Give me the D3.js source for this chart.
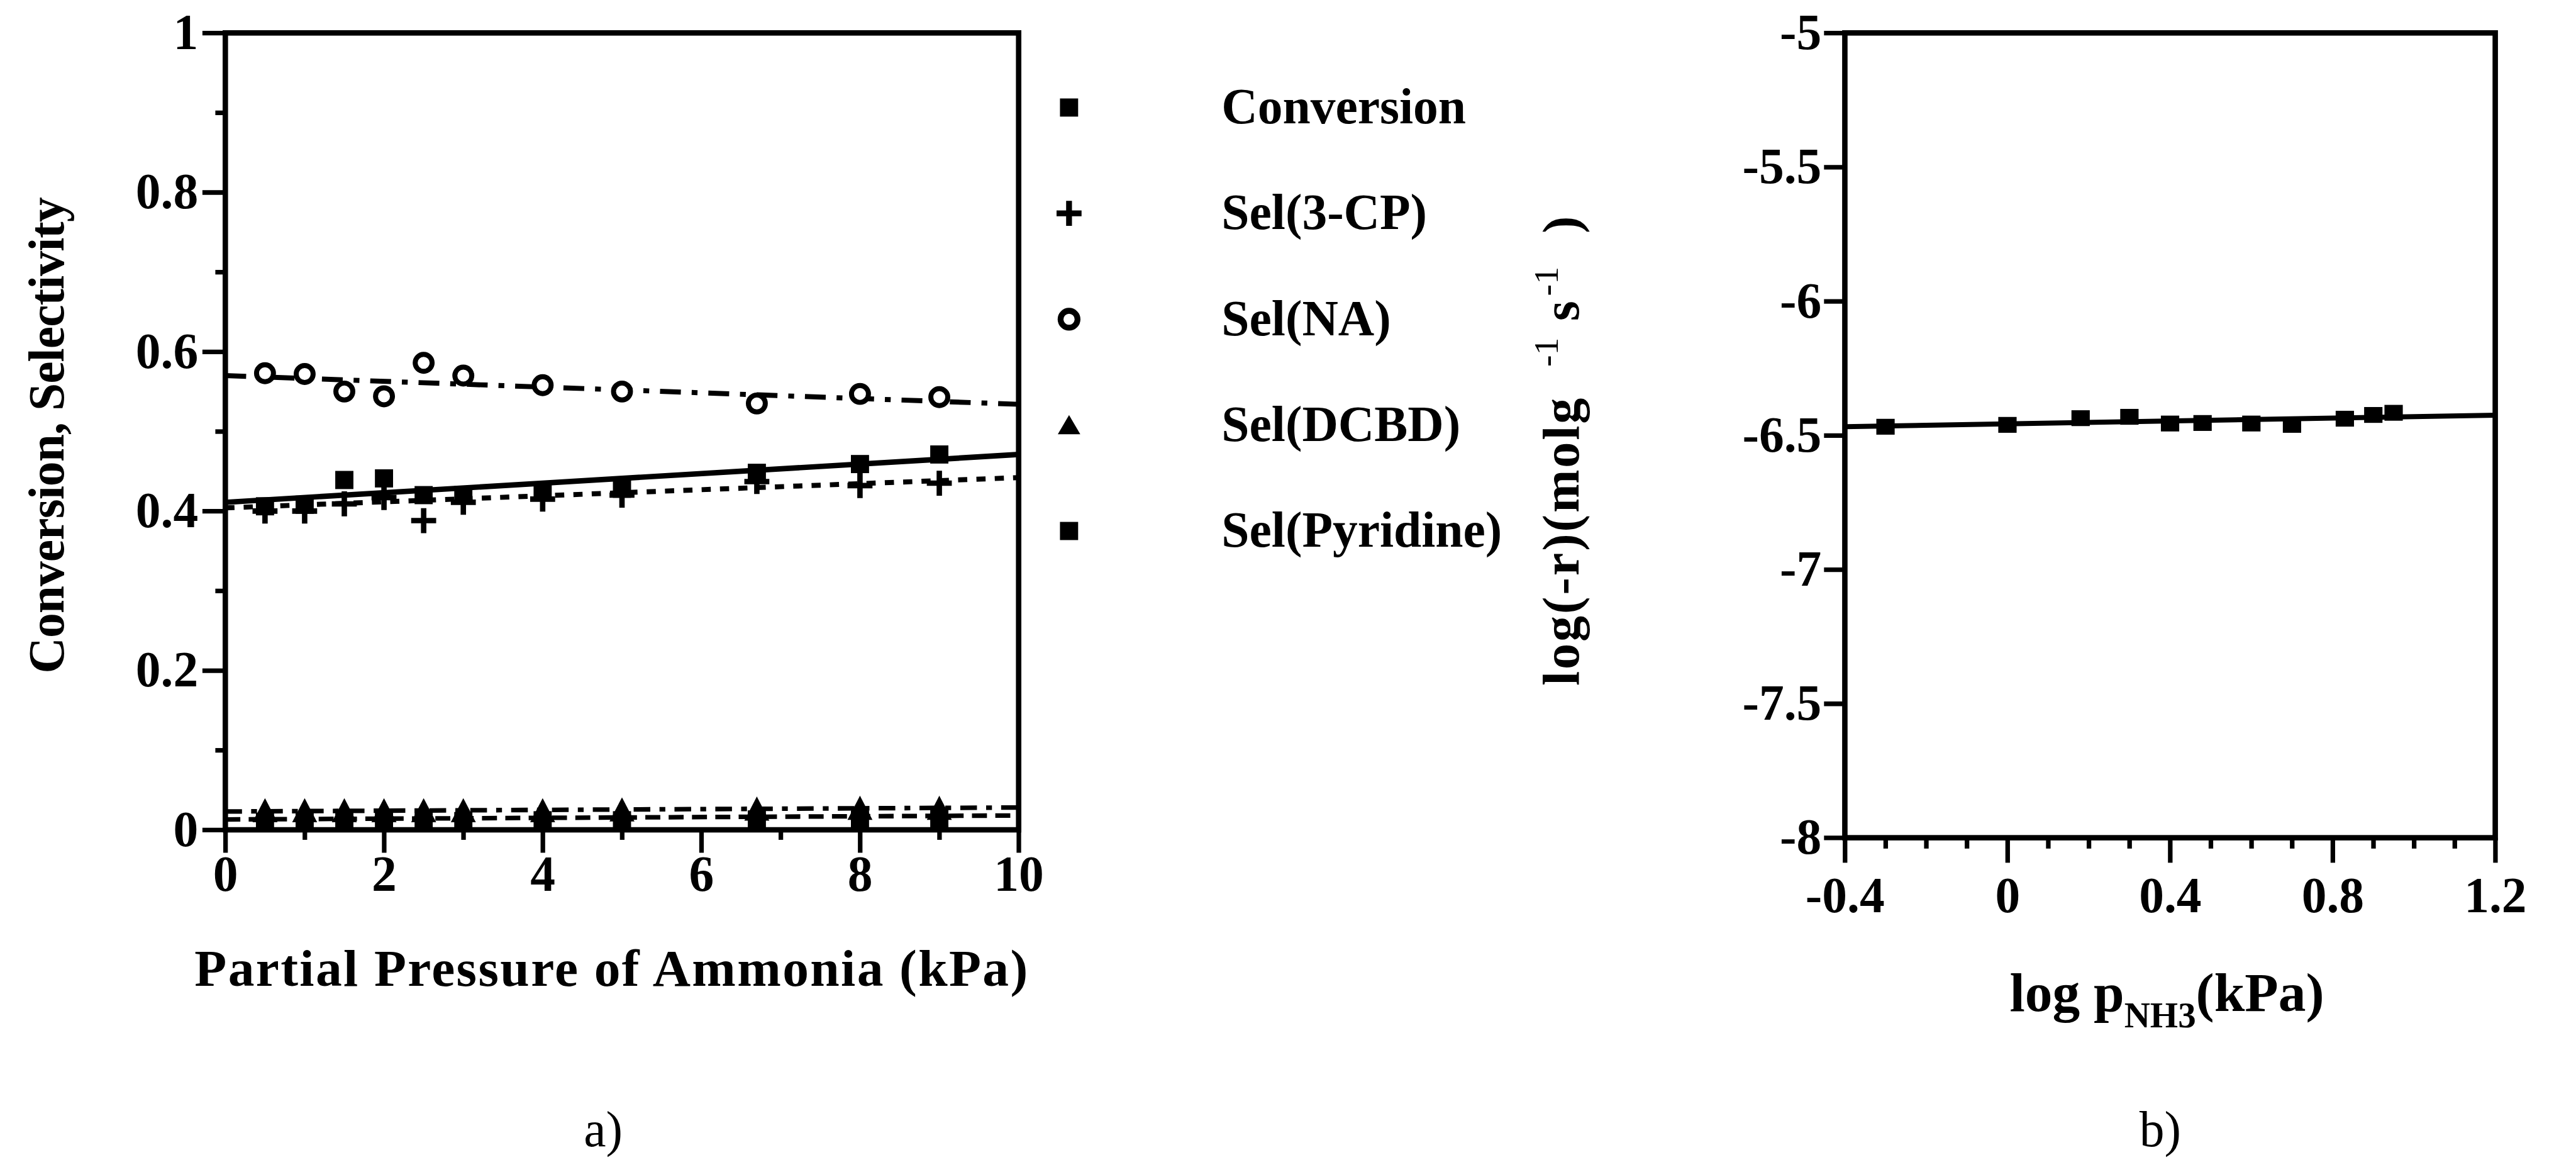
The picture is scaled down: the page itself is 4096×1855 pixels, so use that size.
<!DOCTYPE html>
<html>
<head>
<meta charset="utf-8">
<script src="https://cdn.jsdelivr.net/npm/d3@7"></script>
<style>
  html, body { margin: 0; padding: 0; background: #fff; overflow: hidden; }
  svg { display: block; }
</style>
</head>
<body>
<script>
// ---- data ----
const pressure = [0.5, 1, 1.5, 2, 2.5, 3, 4, 5, 6.7, 8, 9];
const conversion = [0.406, 0.408, 0.439, 0.441, 0.42, 0.42, 0.426, 0.428, 0.448, 0.459, 0.471];
const sel3CP = [0.40, 0.40, 0.409, 0.417, 0.388, 0.411, 0.415, 0.42, 0.437, 0.432, 0.435];
const selNA = [0.573, 0.572, 0.55, 0.544, 0.586, 0.570, 0.558, 0.55, 0.535, 0.547, 0.543];
const selDCBD = [0.022, 0.022, 0.022, 0.022, 0.022, 0.022, 0.022, 0.023, 0.024, 0.025, 0.025];
const selPyridine = [0.010, 0.010, 0.011, 0.011, 0.011, 0.011, 0.012, 0.012, 0.013, 0.013, 0.014];

// fitted lines, value at x = 0 and x = 10
const fitX = [0, 10];
const conversionFit = [0.411, 0.471];
const sel3CPFit = [0.404, 0.442];
const selNAFit = [0.570, 0.534];
const selDCBDFit = [0.023, 0.028];
const selPyridineFit = [0.013, 0.018];

const legendLabels = ["Conversion", "Sel(3-CP)", "Sel(NA)", "Sel(DCBD)", "Sel(Pyridine)"];

// panel b
const logP = [-0.30, 0, 0.18, 0.30, 0.40, 0.48, 0.60, 0.70, 0.83, 0.90, 0.95];
const logRate = [-6.468, -6.461, -6.436, -6.431, -6.456, -6.454, -6.456, -6.461, -6.438, -6.424, -6.416];
const logRateFitX = [-0.4, 1.2];
const logRateFit = [-6.468, -6.425];

const yTicksA = [0, 0.2, 0.4, 0.6, 0.8, 1];
const yMinorA = [0.1, 0.3, 0.5, 0.7, 0.9];
const xTicksA = [0, 2, 4, 6, 8, 10];
const xMinorA = [1, 3, 5, 7, 9];
const yTicksB = [-8, -7.5, -7, -6.5, -6, -5.5, -5];
const xTicksB = [-0.4, 0, 0.4, 0.8, 1.2];
const xMinorB = [-0.3, -0.2, -0.1, 0.1, 0.2, 0.3, 0.5, 0.6, 0.7, 0.9, 1.0, 1.1];

// ---- drawing, in the reference's own pixel units ----
const FONT = '"Liberation Serif", "Times New Roman", serif';
const FS = 120;

const svg = d3.select("body").append("svg")
  .attr("width", 4096)
  .attr("height", 1855)
  .attr("viewBox", "0 0 6181 2800");

svg.append("rect").attr("width", 6181).attr("height", 2800).attr("fill", "#fff");

function styleAxis(g) {
  g.select(".domain").remove();
  g.attr("font-family", null).attr("font-size", null);
  g.selectAll("line").attr("stroke", "#000").attr("stroke-width", 11);
  g.selectAll("text")
    .attr("font-family", FONT)
    .attr("font-size", FS)
    .attr("font-weight", "bold")
    .attr("fill", "#000");
}

const plus = "M-30,0H30M0,-30V30";
const tri = "M0,-34L30,24L-30,24Z";
const square = d3.symbol(d3.symbolSquare, 1900)();
const ring = d3.symbol(d3.symbolCircle, 1300)();

// ===== panel a =====
const xA = d3.scaleLinear().domain([0, 10]).range([540, 2444]);
const yA = d3.scaleLinear().domain([0, 1]).range([1991, 79]);

svg.append("g").attr("transform", "translate(0,1991)")
  .call(d3.axisBottom(xA).tickValues(xTicksA).tickSize(55).tickPadding(6).tickFormat(d => String(d)))
  .call(styleAxis);
svg.append("g").attr("transform", "translate(0,1991)")
  .call(d3.axisBottom(xA).tickValues(xMinorA).tickSize(24).tickFormat(""))
  .call(styleAxis);
svg.append("g").attr("transform", "translate(540,0)")
  .call(d3.axisLeft(yA).tickValues(yTicksA).tickSize(55).tickPadding(10).tickFormat(d => String(d)))
  .call(styleAxis);
svg.append("g").attr("transform", "translate(540,0)")
  .call(d3.axisLeft(yA).tickValues(yMinorA).tickSize(24).tickFormat(""))
  .call(styleAxis);

svg.append("rect")
  .attr("x", xA(0)).attr("y", yA(1))
  .attr("width", xA(10) - xA(0)).attr("height", yA(0) - yA(1))
  .attr("fill", "none").attr("stroke", "#000").attr("stroke-width", 13);

const lineA = d3.line().x(d => xA(d[0])).y(d => yA(d[1]));
const fits = [
  {v: conversionFit, dash: null, w: 13},
  {v: sel3CPFit, dash: "22,22", w: 12},
  {v: selNAFit, dash: "50,26,14,26", w: 12},
  {v: selDCBDFit, dash: "40,22,14,22", w: 11},
  {v: selPyridineFit, dash: "36,20", w: 11}
];
fits.forEach(f => {
  svg.append("path")
    .datum(d3.zip(fitX, f.v))
    .attr("d", lineA)
    .attr("fill", "none")
    .attr("stroke", "#000")
    .attr("stroke-width", f.w)
    .attr("stroke-dasharray", f.dash);
});

const ptsA = svg.append("g");
function marks(values, shape) {
  const g = ptsA.append("g");
  const sel = g.selectAll("path").data(d3.zip(pressure, values)).join("path")
    .attr("transform", d => `translate(${xA(d[0])},${yA(d[1])})`);
  if (shape === "plus") sel.attr("d", plus).attr("stroke", "#000").attr("stroke-width", 13).attr("fill", "none");
  if (shape === "square") sel.attr("d", square).attr("fill", "#000");
  if (shape === "tri") sel.attr("d", tri).attr("fill", "#000");
  if (shape === "circle") sel.attr("d", ring).attr("fill", "#fff").attr("stroke", "#000").attr("stroke-width", 12);
}
marks(selDCBD, "tri");
marks(selPyridine, "square");
marks(sel3CP, "plus");
marks(conversion, "square");
marks(selNA, "circle");

// legend
const shapes = ["square", "plus", "circle", "tri", "square"];
legendLabels.forEach((label, i) => {
  const cy = 258 + i * 254;
  const m = svg.append("path").attr("transform", `translate(2565,${cy})`);
  if (shapes[i] === "plus") m.attr("d", "M-30,0H30M0,-30V30").attr("stroke", "#000").attr("stroke-width", 14);
  else if (shapes[i] === "circle") m.attr("d", ring).attr("fill", "#fff").attr("stroke", "#000").attr("stroke-width", 14);
  else if (shapes[i] === "tri") m.attr("d", "M0,-24L27,22L-27,22Z").attr("fill", "#000");
  else m.attr("d", square).attr("fill", "#000");
  svg.append("text")
    .attr("x", 2931).attr("y", cy + 38)
    .attr("font-family", FONT).attr("font-size", FS).attr("font-weight", "bold")
    .text(label);
});

svg.append("text")
  .attr("x", 1466).attr("y", 2365)
  .attr("text-anchor", "middle")
  .attr("font-family", FONT).attr("font-size", 126).attr("font-weight", "bold")
  .attr("textLength", 2000).attr("lengthAdjust", "spacing")
  .text("Partial Pressure of Ammonia (kPa)");

svg.append("text")
  .attr("transform", "translate(152,1616) rotate(-90)")
  .attr("font-family", FONT).attr("font-size", FS).attr("font-weight", "bold")
  .attr("textLength", 1143).attr("lengthAdjust", "spacing")
  .text("Conversion, Selectivity");

svg.append("text")
  .attr("x", 1447).attr("y", 2750).attr("text-anchor", "middle")
  .attr("font-family", FONT).attr("font-size", FS)
  .text("a)");

// ===== panel b =====
const xB = d3.scaleLinear().domain([-0.4, 1.2]).range([4427, 5988]);
const yB = d3.scaleLinear().domain([-8, -5]).range([2010, 79]);

svg.append("g").attr("transform", "translate(0,2010)")
  .call(d3.axisBottom(xB).tickValues(xTicksB).tickSize(60).tickPadding(34).tickFormat(d => String(d)))
  .call(styleAxis);
svg.append("g").attr("transform", "translate(0,2010)")
  .call(d3.axisBottom(xB).tickValues(xMinorB).tickSize(26).tickFormat(""))
  .call(styleAxis);
svg.append("g").attr("transform", "translate(4427,0)")
  .call(d3.axisLeft(yB).tickValues(yTicksB).tickSize(50).tickPadding(6).tickFormat(d => String(d)))
  .call(styleAxis);

svg.append("rect")
  .attr("x", xB(-0.4)).attr("y", yB(-5))
  .attr("width", xB(1.2) - xB(-0.4)).attr("height", yB(-8) - yB(-5))
  .attr("fill", "none").attr("stroke", "#000").attr("stroke-width", 13);

svg.append("path")
  .datum(d3.zip(logRateFitX, logRateFit))
  .attr("d", d3.line().x(d => xB(d[0])).y(d => yB(d[1])))
  .attr("fill", "none").attr("stroke", "#000").attr("stroke-width", 12);

svg.append("g").selectAll("rect").data(d3.zip(logP, logRate)).join("rect")
  .attr("x", d => xB(d[0]) - 22).attr("y", d => yB(d[1]) - 19)
  .attr("width", 44).attr("height", 38)
  .attr("fill", "#000");

// y title: log(-r)(molg^-1 s^-1)
const yt = svg.append("g").attr("transform", "translate(3788,0) rotate(-90)")
  .attr("font-family", FONT).attr("font-weight", "bold").attr("font-size", 124);
yt.append("text").attr("x", -1645).attr("y", 0)
  .attr("textLength", 690).attr("lengthAdjust", "spacing").text("log(-r)(molg");
yt.append("text").attr("x", -880).attr("y", -50).attr("font-size", 84).attr("font-weight", "normal").text("-1");
yt.append("text").attr("x", -770).attr("y", 0).text("s");
yt.append("text").attr("x", -710).attr("y", -50).attr("font-size", 84).attr("font-weight", "normal").text("-1");
yt.append("text").attr("x", -560).attr("y", 0).text(")");

const xt = svg.append("text")
  .attr("x", 5200).attr("y", 2425).attr("text-anchor", "middle")
  .attr("font-family", FONT).attr("font-weight", "bold").attr("font-size", 132);
xt.append("tspan").text("log p");
xt.append("tspan").attr("dy", 40).attr("font-size", 86).text("NH3");
xt.append("tspan").attr("dy", -40).text("(kPa)");

svg.append("text")
  .attr("x", 5184).attr("y", 2750).attr("text-anchor", "middle")
  .attr("font-family", FONT).attr("font-size", FS)
  .text("b)");
</script>
</body>
</html>
